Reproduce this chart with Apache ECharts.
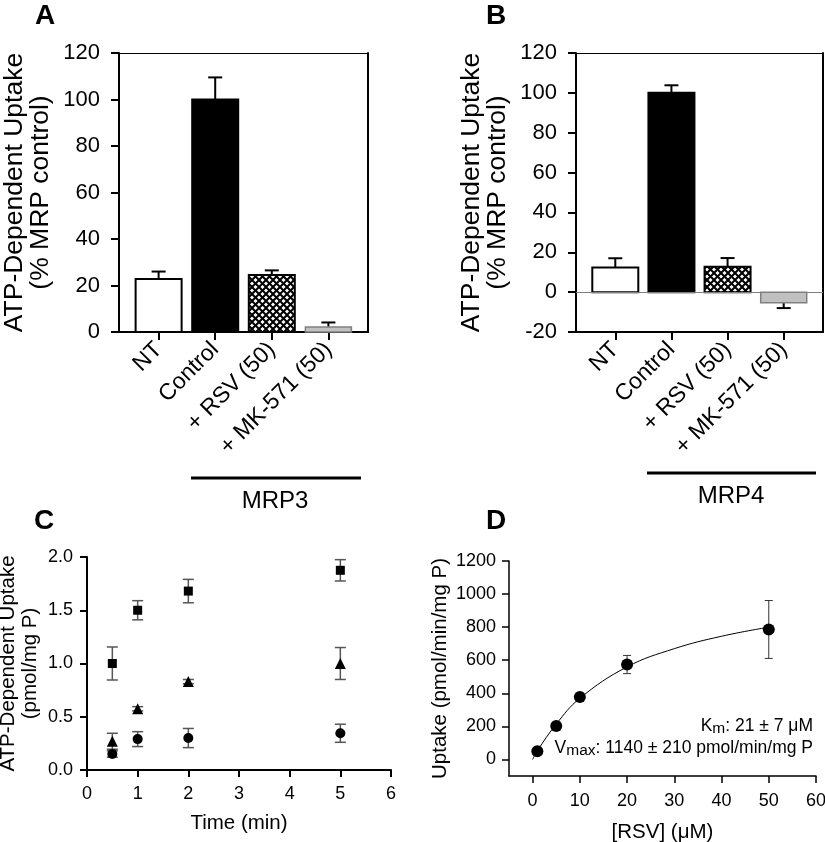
<!DOCTYPE html>
<html>
<head>
<meta charset="utf-8">
<script src="https://cdn.jsdelivr.net/npm/echarts@6/dist/echarts.min.js"></script>
<style>
html,body{margin:0;padding:0;background:#fff;}
#chart{width:825px;height:842px;}
</style>
</head>
<body>
<div id="chart"></div>
<script>
// ---------- DATA ----------
const categories = ['NT', 'Control', '+ RSV (50)', '+ MK-571 (50)'];
const mrp3Values = [22.8, 100, 24.5, 2.1];
const mrp3Errors = [3.2, 9.5, 2.0, 2.0];
const mrp4Values = [12.4, 100, 12.8, -5.3];
const mrp4Errors = [4.6, 3.8, 4.3, 2.7];

const timePoints = [0.5, 1, 2, 5];
const squareMean = [1.00, 1.50, 1.68, 1.875];
const squareErr = [0.155, 0.09, 0.11, 0.10];
const triangleMean = [0.27, 0.575, 0.83, 1.00];
const triangleErr = [0.075, 0.02, 0.02, 0.15];
const circleMean = [0.15, 0.29, 0.30, 0.345];
const circleErr = [0.03, 0.07, 0.09, 0.085];

const rsvConc = [1, 5, 10, 20, 50];
const rsvUptake = [50, 202, 378, 574, 786];
const rsvErr = [0, 0, 0, 55, 175];
const fitConc = [0, 1, 5, 10, 20, 30, 40, 50];
const fitUptake = [0, 52, 214, 370, 560, 670, 745, 800];

const catTicks = [0, 1, 2, 3];
const dXTicks = [0, 10, 20, 30, 40, 50, 60];
const dYTicks = [0, 200, 400, 600, 800, 1000, 1200];

// ---------- STYLE ----------
const FONT = '"Liberation Sans", Arial, Helvetica, sans-serif';
const hatch = document.createElement('canvas');
hatch.width = 7; hatch.height = 7;
(function () {
  const c = hatch.getContext('2d');
  c.fillStyle = '#fff'; c.fillRect(0, 0, 7, 7);
  c.strokeStyle = '#000'; c.lineWidth = 2;
  for (const d of [-7, 0, 7]) {
    c.beginPath(); c.moveTo(d, 0); c.lineTo(d + 7, 7); c.stroke();
    c.beginPath(); c.moveTo(d + 7, 0); c.lineTo(d, 7); c.stroke();
  }
})();
const barStyles = [
  { fill: '#fff', stroke: '#000', lineWidth: 2 },
  { fill: '#000', stroke: '#000', lineWidth: 2 },
  { fill: { image: hatch, repeat: 'repeat' }, stroke: '#000', lineWidth: 2 },
  { fill: '#c0c0c0', stroke: '#808080', lineWidth: 1.5 }
];

function barRender(params, api) {
  const x = api.value(0), v = api.value(1);
  const p0 = api.coord([x, 0]);
  const p1 = api.coord([x, v]);
  const w = 46;
  return {
    type: 'rect',
    shape: { x: p0[0] - w / 2, y: Math.min(p0[1], p1[1]), width: w, height: Math.abs(p1[1] - p0[1]) },
    style: barStyles[params.dataIndex]
  };
}
function oneSidedErr(params, api) {
  const x = api.value(0), v = api.value(1), e = api.value(2);
  const s = v >= 0 ? 1 : -1;
  const a = api.coord([x, v]);
  const b = api.coord([x, v + s * e]);
  const cw = 7;
  return {
    type: 'group',
    children: [
      { type: 'line', shape: { x1: a[0], y1: a[1], x2: b[0], y2: b[1] }, style: { stroke: '#000', lineWidth: 2 } },
      { type: 'line', shape: { x1: b[0] - cw, y1: b[1], x2: b[0] + cw, y2: b[1] }, style: { stroke: '#000', lineWidth: 2 } }
    ]
  };
}
function makeErr(cap, color, lw) {
  return function (params, api) {
    const x = api.value(0), v = api.value(1), e = api.value(2);
    if (!e) return { type: 'group', children: [] };
    const a = api.coord([x, v - e]);
    const b = api.coord([x, v + e]);
    return {
      type: 'group',
      children: [
        { type: 'line', shape: { x1: a[0], y1: a[1], x2: b[0], y2: b[1] }, style: { stroke: color, lineWidth: lw } },
        { type: 'line', shape: { x1: a[0] - cap, y1: a[1], x2: a[0] + cap, y2: a[1] }, style: { stroke: color, lineWidth: lw } },
        { type: 'line', shape: { x1: b[0] - cap, y1: b[1], x2: b[0] + cap, y2: b[1] }, style: { stroke: color, lineWidth: lw } }
      ]
    };
  };
}
const zip3 = (a, b, c) => a.map((v, i) => [v, b[i], c[i]]);

function barXAxis(grid) {
  return {
    gridIndex: grid, type: 'value', min: -0.7, max: 3.7, position: 'bottom',
    axisLine: { onZero: false, lineStyle: { color: '#000', width: 2 } },
    axisTick: { show: true, customValues: catTicks, length: 8, lineStyle: { color: '#000', width: 2 } },
    axisLabel: { customValues: catTicks, formatter: v => categories[Math.round(v)] || '', rotate: 45, margin: 14,
      color: '#000', fontSize: 23, fontFamily: FONT },
    splitLine: { show: false }
  };
}
function topAxis(grid) {
  return { gridIndex: grid, type: 'value', min: -0.7, max: 3.7, position: 'top',
    axisLine: { show: true, onZero: false, lineStyle: { color: '#000', width: 1 } },
    axisTick: { show: false }, axisLabel: { show: false }, splitLine: { show: false } };
}
function barYAxis(grid, min) {
  return {
    gridIndex: grid, type: 'value', min: min, max: 120, interval: 20,
    name: 'ATP-Dependent Uptake\n(% MRP control)', nameLocation: 'middle', nameGap: 65,
    nameTextStyle: { fontSize: 26.5, lineHeight: 26, color: '#000', fontFamily: FONT },
    axisLine: { show: true, onZero: false, lineStyle: { color: '#000', width: 2 } },
    axisTick: { show: true, length: 8, lineStyle: { color: '#000', width: 2 } },
    axisLabel: { color: '#000', fontSize: 22, margin: 19, fontFamily: FONT },
    splitLine: { show: false }
  };
}
function rightAxis(grid, min) {
  return { gridIndex: grid, type: 'value', min: min, max: 120, position: 'right',
    axisLine: { show: true, onZero: false, lineStyle: { color: '#000', width: 2 } },
    axisTick: { show: false }, axisLabel: { show: false }, splitLine: { show: false } };
}

const chart = echarts.init(document.getElementById('chart'), null, { renderer: 'canvas' });
const option = {
  backgroundColor: '#fff',
  animation: false,
  textStyle: { fontFamily: FONT },
  grid: [
    { left: 119, top: 53, width: 249, height: 279, outerBoundsMode: 'none' },
    { left: 576, top: 53, width: 247, height: 279, outerBoundsMode: 'none' },
    { left: 87, top: 557, width: 304, height: 213, outerBoundsMode: 'none' },
    { left: 509, top: 561, width: 307, height: 215, outerBoundsMode: 'none' }
  ],
  xAxis: [
    barXAxis(0), topAxis(0), barXAxis(1), topAxis(1),
    { gridIndex: 2, type: 'value', min: 0, max: 6, interval: 1,
      name: 'Time (min)', nameLocation: 'middle', nameGap: 43,
      nameTextStyle: { fontSize: 20.5, color: '#000', fontFamily: FONT },
      axisLine: { onZero: false, lineStyle: { color: '#000', width: 2 } },
      axisTick: { length: 7, lineStyle: { color: '#000', width: 2 } },
      axisLabel: { color: '#000', fontSize: 18, margin: 15, fontFamily: FONT },
      splitLine: { show: false } },
    { gridIndex: 3, type: 'value', min: -5, max: 60,
      name: '[RSV] (\u03bcM)', nameLocation: 'middle', nameGap: 46,
      nameTextStyle: { fontSize: 20.5, color: '#000', fontFamily: FONT },
      axisLine: { onZero: false, lineStyle: { color: '#000', width: 1.5 } },
      axisTick: { customValues: dXTicks, length: 7, lineStyle: { color: '#000', width: 1.5 } },
      axisLabel: { customValues: dXTicks, color: '#000', fontSize: 18, margin: 16, fontFamily: FONT },
      splitLine: { show: false } }
  ],
  yAxis: [
    barYAxis(0, 0), rightAxis(0, 0), barYAxis(1, -20), rightAxis(1, -20),
    { gridIndex: 2, type: 'value', min: 0, max: 2, interval: 0.5,
      name: 'ATP-Dependent Uptake\n(pmol/mg P)', nameLocation: 'middle', nameGap: 46,
      nameTextStyle: { fontSize: 20.5, lineHeight: 22, color: '#000', fontFamily: FONT },
      axisLine: { show: true, onZero: false, lineStyle: { color: '#000', width: 2 } },
      axisTick: { show: true, length: 7, lineStyle: { color: '#000', width: 2 } },
      axisLabel: { color: '#000', fontSize: 18, margin: 14, formatter: v => v.toFixed(1), fontFamily: FONT },
      splitLine: { show: false } },
    { gridIndex: 3, type: 'value', min: -100, max: 1200,
      name: 'Uptake (pmol/min/mg P)', nameLocation: 'middle', nameGap: 58,
      nameTextStyle: { fontSize: 20.5, color: '#000', fontFamily: FONT },
      axisLine: { show: true, onZero: false, lineStyle: { color: '#000', width: 1.5 } },
      axisTick: { show: true, customValues: dYTicks, length: 7, lineStyle: { color: '#000', width: 1.5 } },
      axisLabel: { customValues: dYTicks, formatter: v => String(v), color: '#000', fontSize: 18, margin: 13, fontFamily: FONT },
      splitLine: { show: false } }
  ],
  series: [
    { type: 'custom', name: 'MRP3', xAxisIndex: 0, yAxisIndex: 0, clip: false, encode: { x: 0, y: 1 },
      renderItem: oneSidedErr, data: zip3(catTicks, mrp3Values, mrp3Errors), z: 2 },
    { type: 'custom', name: 'MRP3 bars', xAxisIndex: 0, yAxisIndex: 0, clip: false, encode: { x: 0, y: 1 },
      renderItem: barRender, data: zip3(catTicks, mrp3Values, mrp3Errors), z: 3 },
    { type: 'custom', name: 'MRP4', xAxisIndex: 2, yAxisIndex: 2, clip: false, encode: { x: 0, y: 1 },
      renderItem: oneSidedErr, data: zip3(catTicks, mrp4Values, mrp4Errors), z: 2,
      markLine: { silent: true, symbol: 'none', label: { show: false },
        lineStyle: { color: '#808080', width: 1, type: 'solid' }, data: [{ yAxis: 0 }] } },
    { type: 'custom', name: 'MRP4 bars', xAxisIndex: 2, yAxisIndex: 2, clip: false, encode: { x: 0, y: 1 },
      renderItem: barRender, data: zip3(catTicks, mrp4Values, mrp4Errors), z: 3 },

    { type: 'custom', xAxisIndex: 4, yAxisIndex: 4, clip: false, encode: { x: 0, y: 1 },
      renderItem: makeErr(5.5, '#555', 1.5), data: zip3(timePoints, squareMean, squareErr), z: 2 },
    { type: 'custom', xAxisIndex: 4, yAxisIndex: 4, clip: false, encode: { x: 0, y: 1 },
      renderItem: makeErr(5.5, '#555', 1.5), data: zip3(timePoints, triangleMean, triangleErr), z: 2 },
    { type: 'custom', xAxisIndex: 4, yAxisIndex: 4, clip: false, encode: { x: 0, y: 1 },
      renderItem: makeErr(5.5, '#555', 1.5), data: zip3(timePoints, circleMean, circleErr), z: 2 },
    { type: 'scatter', name: 'square', xAxisIndex: 4, yAxisIndex: 4, symbol: 'rect', symbolSize: 9,
      itemStyle: { color: '#000', opacity: 1 }, data: timePoints.map((t, i) => [t, squareMean[i]]), z: 3 },
    { type: 'scatter', name: 'triangle', xAxisIndex: 4, yAxisIndex: 4, symbol: 'triangle', symbolSize: 11,
      itemStyle: { color: '#000', opacity: 1 }, data: timePoints.map((t, i) => [t, triangleMean[i]]), z: 3 },
    { type: 'scatter', name: 'circle', xAxisIndex: 4, yAxisIndex: 4, symbol: 'circle', symbolSize: 10,
      itemStyle: { color: '#000', opacity: 1 }, data: timePoints.map((t, i) => [t, circleMean[i]]), z: 3 },

    { type: 'line', name: 'fit', xAxisIndex: 5, yAxisIndex: 5, smooth: 0.4, showSymbol: false, symbol: 'none',
      lineStyle: { color: '#000', width: 1 }, data: fitConc.map((c, i) => [c, fitUptake[i]]), z: 2 },
    { type: 'custom', xAxisIndex: 5, yAxisIndex: 5, clip: false, encode: { x: 0, y: 1 },
      renderItem: makeErr(4, '#333', 1), data: zip3(rsvConc, rsvUptake, rsvErr), z: 2 },
    { type: 'scatter', name: 'RSV', xAxisIndex: 5, yAxisIndex: 5, symbol: 'circle', symbolSize: 12,
      itemStyle: { color: '#000', opacity: 1 }, data: rsvConc.map((c, i) => [c, rsvUptake[i]]), z: 3 }
  ],
  graphic: [
    { type: 'text', left: 35, top: 2, style: { text: 'A', fontSize: 28, fontWeight: 'bold', fill: '#000', fontFamily: FONT } },
    { type: 'text', left: 486, top: 2, style: { text: 'B', fontSize: 28, fontWeight: 'bold', fill: '#000', fontFamily: FONT } },
    { type: 'text', left: 34, top: 507, style: { text: 'C', fontSize: 28, fontWeight: 'bold', fill: '#000', fontFamily: FONT } },
    { type: 'text', left: 486, top: 507, style: { text: 'D', fontSize: 28, fontWeight: 'bold', fill: '#000', fontFamily: FONT } },
    { type: 'line', shape: { x1: 191, y1: 478, x2: 361, y2: 478 }, style: { stroke: '#000', lineWidth: 3 } },
    { type: 'text', x: 275, y: 501, style: { text: 'MRP3', fontSize: 24, fill: '#000', align: 'center', verticalAlign: 'middle', fontFamily: FONT } },
    { type: 'line', shape: { x1: 647, y1: 473, x2: 816, y2: 473 }, style: { stroke: '#000', lineWidth: 3 } },
    { type: 'text', x: 731, y: 496, style: { text: 'MRP4', fontSize: 24, fill: '#000', align: 'center', verticalAlign: 'middle', fontFamily: FONT } },
    { type: 'text', x: 813, y: 726, style: {
        text: '{n|K}{s|m}{n|: 21 \u00b1 7 \u03bcM}', align: 'right', verticalAlign: 'middle', fontFamily: FONT,
        rich: { n: { fontSize: 17.5, fill: '#000', fontFamily: FONT }, s: { fontSize: 15.5, fill: '#000', padding: [6, 0, 0, 0], fontFamily: FONT } } } },
    { type: 'text', x: 813, y: 748, style: {
        text: '{n|V}{s|max}{n|: 1140 \u00b1 210 pmol/min/mg P}', align: 'right', verticalAlign: 'middle', fontFamily: FONT,
        rich: { n: { fontSize: 17.5, fill: '#000', fontFamily: FONT }, s: { fontSize: 15.5, fill: '#000', padding: [6, 0, 0, 0], fontFamily: FONT } } } }
  ]
};
chart.setOption(option);
</script>
</body>
</html>
